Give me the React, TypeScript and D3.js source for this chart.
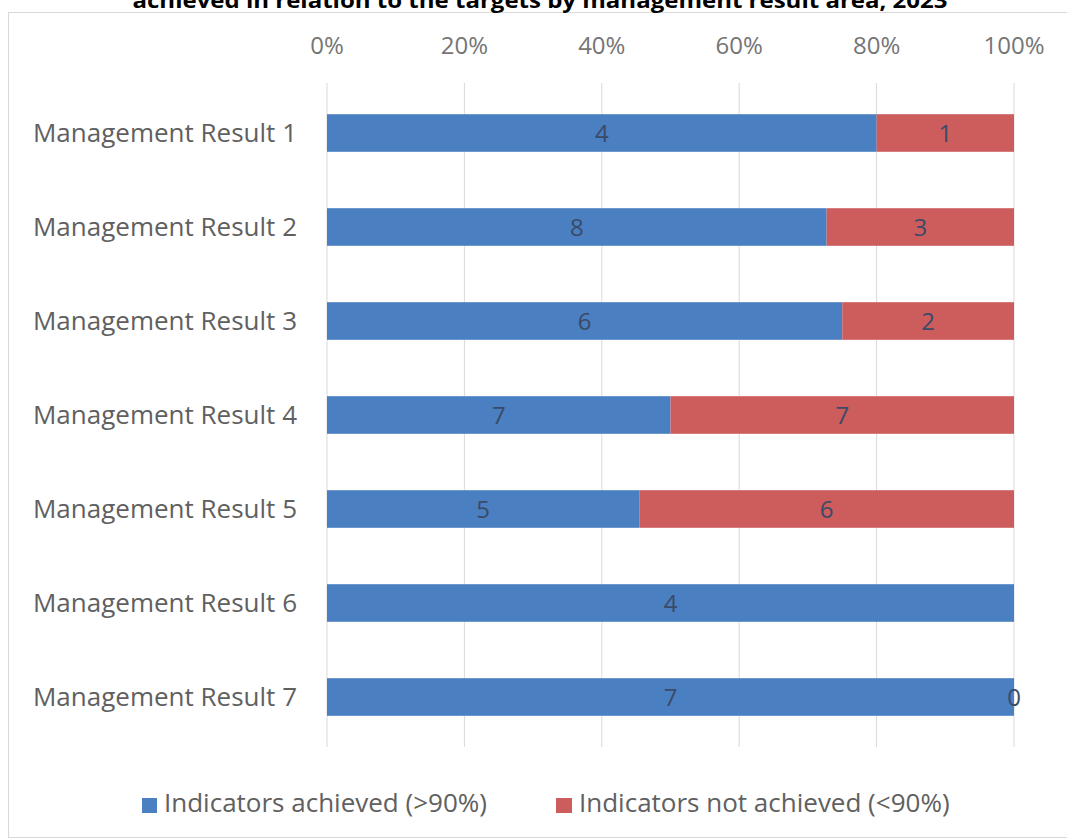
import React from "react";
import * as d3 from "d3";

const categories = [
  "Management Result 1",
  "Management Result 2",
  "Management Result 3",
  "Management Result 4",
  "Management Result 5",
  "Management Result 6",
  "Management Result 7",
];
const achieved = [4, 8, 6, 7, 5, 4, 7];
const notAchieved = [1, 3, 2, 7, 6, 0, 0];
const showNotAchievedLabel = [true, true, true, true, true, false, true];
const tickValues = [0, 0.2, 0.4, 0.6, 0.8, 1];
const seriesNames = ["Indicators achieved (>90%)", "Indicators not achieved (<90%)"];
const title = "achieved in relation to the targets by management result area, 2023";

const BLUE = "#4a7fc1";
const RED = "#cd5c5c";
const FONT = "'Open Sans', 'Noto Sans', sans-serif";

export default function App() {
  const W = 1067, H = 840;
  const x = d3.scaleLinear().domain([0, 1]).range([327, 1014]);
  const y = d3.scaleBand<string>().domain(categories).range([86, 744]).paddingInner(0.6).paddingOuter(0.3);
  const gridTop = 83, gridBottom = 747;
  const bh = y.bandwidth();

  return (
    <svg width={W} height={H} style={{ position: "absolute", left: 0, top: 0, background: "#fff" }}>
      <rect x={8.5} y={12.5} width={1100} height={825} fill="#fff" stroke="#d9d9d9" strokeWidth={1} />
      <text x={540} y={8} textAnchor="middle" fontFamily={FONT} fontWeight="bold" fontSize={21} fill="#000" textLength={815} lengthAdjust="spacingAndGlyphs">
        {title}
      </text>
      {tickValues.map((t) => (
        <g key={t}>
          <line x1={x(t)} x2={x(t)} y1={gridTop} y2={gridBottom} stroke="#d9d9d9" strokeWidth={1} />
          <text x={x(t)} y={54} textAnchor="middle" fontFamily={FONT} fontSize={24} fill="#757575">
            {d3.format(".0%")(t)}
          </text>
        </g>
      ))}
      {categories.map((c, i) => {
        const total = achieved[i] + notAchieved[i];
        const p1 = achieved[i] / total;
        const yy = y(c)!;
        const cy = yy + bh / 2;
        return (
          <g key={c}>
            <text x={297} y={cy} dy="0.36em" textAnchor="end" fontFamily={FONT} fontSize={26} fill="#606060">
              {c}
            </text>
            <rect x={x(0)} y={yy} width={x(p1) - x(0)} height={bh} fill={BLUE} />
            <rect x={x(p1)} y={yy} width={x(1) - x(p1)} height={bh} fill={RED} />
            <text x={(x(0) + x(p1)) / 2} y={cy} dy="0.36em" textAnchor="middle" fontFamily={FONT} fontSize={24} fill="#3b4a66">
              {achieved[i]}
            </text>
            {showNotAchievedLabel[i] && (
              <text x={(x(p1) + x(1)) / 2} y={cy} dy="0.36em" textAnchor="middle" fontFamily={FONT} fontSize={24} fill="#3b4a66">
                {notAchieved[i]}
              </text>
            )}
          </g>
        );
      })}
      <rect x={142} y={798} width={15} height={15} fill={BLUE} />
      <text x={164} y={803} dy="0.36em" fontFamily={FONT} fontSize={26} fill="#606060">{seriesNames[0]}</text>
      <rect x={556} y={798} width={16} height={15} fill={RED} />
      <text x={579} y={803} dy="0.36em" fontFamily={FONT} fontSize={26} fill="#606060">{seriesNames[1]}</text>
    </svg>
  );
}
